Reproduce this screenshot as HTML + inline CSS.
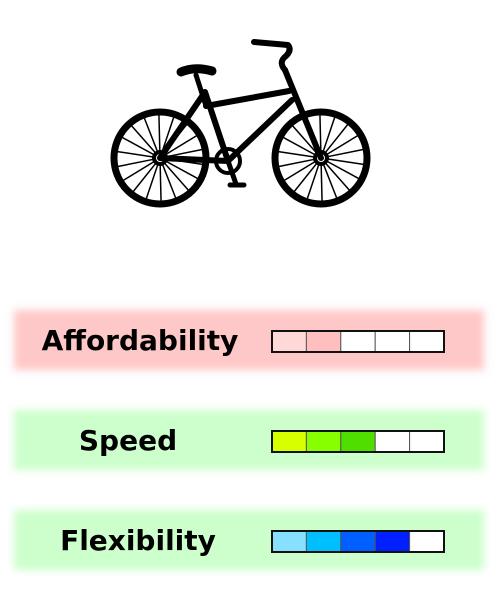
<!DOCTYPE html>
<html><head><meta charset="utf-8"><style>
body{margin:0;background:#fff;}
svg{display:block;}
</style></head><body>
<svg width="500" height="600" viewBox="0 0 500 600">
<defs>
<filter id="blur" x="-10%" y="-50%" width="120%" height="200%"><feGaussianBlur stdDeviation="4"/></filter>
</defs>
<g fill="none" stroke="#000" stroke-linecap="round" stroke-linejoin="round">
 <circle cx="160" cy="158" r="46" stroke-width="7"/>
 <circle cx="321" cy="158" r="46" stroke-width="7"/>
 <g id="spokesR" stroke-width="1.5"></g>
 <g id="spokesF" stroke-width="1.5"></g>
 <circle cx="160" cy="158" r="6" stroke-width="4"/>
 <circle cx="321" cy="158" r="6" stroke-width="4"/>
 <circle cx="228" cy="161" r="12" stroke-width="4"/>
 <path d="M160 158 L205 92 L228 161 L160 158 Z" stroke-width="6"/>
 <path d="M206 106 L289 91 M228 161 L292 100 M321 158 L285 70" stroke-width="6"/>
 <path d="M196 75 L206 106" stroke-width="5"/>
 <path d="M181 72 Q195 66 212 71" stroke-width="9"/>
 <path d="M285 70 Q278 62 286 56 Q292 50 288 45 L254 42" stroke-width="6"/>
 <path d="M228 161 L236 184 M230 185 L244 185" stroke-width="5"/>
</g>
<g id="rows"></g>
</svg>
<script>
const categories=["Affordability","Speed","Flexibility"];
const ratings=[2,3,4];
const maxRating=5;
const bandColors=["#ffc8c8","#ccffcc","#ccffcc"];
const cellColors=[["#ffd8d8","#ffbfbf","#ffb0b0","#ff9c9c","#ff8080"],["#d8ff00","#88ff00","#50dd00","#30bb00","#209900"],["#88e0ff","#00bfff","#0060ff","#0020ff","#0000c0"]];
const NS="http://www.w3.org/2000/svg";
function mk(t,a,p){const e=document.createElementNS(NS,t);for(const k in a)e.setAttribute(k,a[k]);p.appendChild(e);return e;}
[[160,"spokesR"],[321,"spokesF"]].forEach(([cx,id])=>{const g=document.getElementById(id);for(let i=0;i<18;i++){const a=i*Math.PI/9+0.15;mk("line",{x1:cx+6*Math.cos(a),y1:158+6*Math.sin(a),x2:cx+43*Math.cos(a),y2:158+43*Math.sin(a)},g);}});
const rows=document.getElementById("rows");
const y0=310,step=100,cellW=34.4,barX=272;
const labelX=[140,128,138];
categories.forEach((c,i)=>{
 const y=y0+i*step;
 const band=mk("rect",{x:14,y:y,width:470,height:60,fill:bandColors[i],filter:"url(#blur)"},rows);
 
 
 const t=mk("text",{x:labelX[i],y:y+40,"text-anchor":"middle","font-family":"DejaVu Sans, Liberation Sans, sans-serif","font-weight":"bold","font-size":"28"},rows);
 t.textContent=c;
 
 
 for(let j=0;j<maxRating;j++){
  const r=mk("rect",{x:barX+j*cellW,y:y+21,width:cellW,height:21,fill:j<ratings[i]?cellColors[i][j]:"#fff",stroke:"#555","stroke-width":1},rows);
  
  
 }
 const o=mk("rect",{x:barX,y:y+21,width:cellW*maxRating,height:21,fill:"none",stroke:"#111","stroke-width":2},rows);
 
 
});
</script>
</body></html>
